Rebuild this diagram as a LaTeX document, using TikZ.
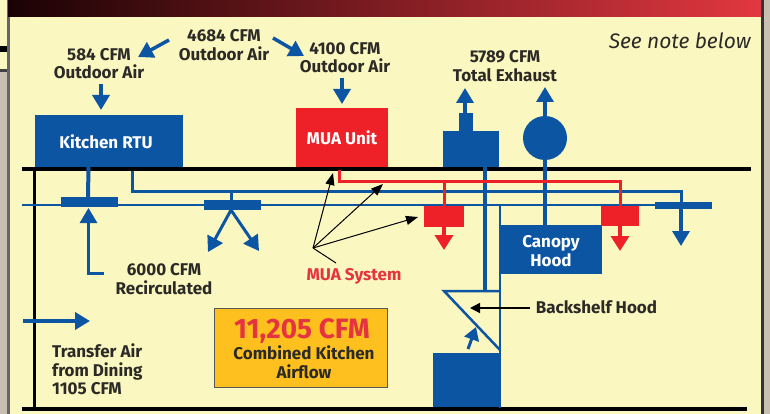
\documentclass[tikz,border=0pt]{standalone}
\usepackage{xcolor}
\usepackage{fontspec}
\setmainfont{Fira Sans}
\usepackage{tikz}
\usetikzlibrary{arrows.meta,positioning,calc}
\definecolor{paper}{HTML}{FBF7C0}
\definecolor{ductblue}{HTML}{0C55A3}
\definecolor{muared}{HTML}{EE2129}
\definecolor{inkdark}{HTML}{2B2A26}
\definecolor{margin}{HTML}{C8BFB0}
\definecolor{amber}{HTML}{FDC01E}
\definecolor{bandleft}{HTML}{1A0204}
\definecolor{bandmid}{HTML}{7A1012}
\definecolor{bandright}{HTML}{E23740}
\definecolor{alertred}{HTML}{E5343F}

\begin{document}
\begin{tikzpicture}[
  x=1pt,y=-1pt,
  lbl/.style={font=\bfseries\fontsize{17}{18.5}\selectfont,text=inkdark,align=center,inner sep=0pt},
  unit/.style={font=\bfseries\fontsize{17}{18.5}\selectfont,text=white,align=center,inner sep=0pt,outer sep=0pt},
  blk/.style={fill=ductblue,inner sep=0pt,outer sep=0pt},
  redblk/.style={fill=muared,inner sep=0pt,outer sep=0pt},
  duct/.style={draw=ductblue,line width=3pt},
  thinduct/.style={draw=ductblue,line width=2pt},
  redduct/.style={draw=muared,line width=3pt},
  slab/.style={draw=black,line width=4pt},
  flow/.style={draw=ductblue,line width=3.5pt,-{Triangle[length=15pt,width=17pt]}},
  redflow/.style={draw=muared,line width=3.5pt,-{Triangle[length=15pt,width=18pt]}},
  pointer/.style={draw=black,line width=1pt,-{Triangle[length=12pt,width=9pt]}}
]
\useasboundingbox (0,0) rectangle (770,414);
\fill[paper] (0,0) rectangle (770,414);
\fill[margin] (0,72) rectangle (8,414);
\fill[black] (0,46) rectangle (7,52);
\fill[black!75] (0,69) rectangle (7,72);
\fill[black!60] (7,0) rectangle (10,414);
\fill[margin] (764,0) rectangle (770,414);
\fill[black!80] (761,0) rectangle (764,414);
\shade[left color=bandleft,middle color=bandmid,right color=bandright] (8,0) rectangle (761,17);

\node[lbl] (outrtu) at (99,63.5) {584 CFM\\Outdoor Air};
\node[lbl] (outall) at (224,45) {4684 CFM\\Outdoor Air};
\node[lbl] (outmua) at (345,57.5) {4100 CFM\\Outdoor Air};
\node[lbl] (exhaust) at (505,66) {5789 CFM\\Total Exhaust};
\node[font=\itshape\fontsize{21}{24}\selectfont,text=inkdark,anchor=east,inner sep=0pt] (note) at (751,41) {See note below};
\node[lbl] (recirc) at (164,279) {6000 CFM\\Recirculated};
\node[lbl,text=alertred] (muasys) at (354,276) {MUA System};
\node[lbl,align=left,anchor=north west] (transfer) at (52,344) {Transfer Air\\from Dining\\1105 CFM};
\node[lbl] (backlbl) at (596.5,307) {Backshelf Hood};

\node[blk,minimum width=148pt,minimum height=52pt] (rtu) at (109,141) {};
\node[unit] (rtulbl) at (106,142) {Kitchen RTU};
\node[unit,fill=muared,minimum width=92pt,minimum height=59pt] (mua) at (342,137.5) {MUA Unit};
\node[blk,minimum width=56pt,minimum height=36pt] (stack) at (471,149) {};
\node[blk,minimum width=14pt,minimum height=18pt] (stackcap) at (466,122) {};
\node[blk,circle,minimum size=44pt] (fan) at (545,138) {};
\node[blk,minimum width=102pt,minimum height=49pt] (canopy) at (551,249.5) {};
\node[unit] (canopylbl) at (551,251) {Canopy\\Hood};
\node[blk,minimum width=67pt,minimum height=55pt] (cooker) at (466.5,380.5) {};
\node[blk,minimum width=57pt,minimum height=10pt] (grille) at (89.5,202) {};
\node[blk,minimum width=57pt,minimum height=10pt] (splitter) at (232.5,205) {};
\node[blk,minimum width=57pt,minimum height=7pt] (endgrille) at (683.5,205.5) {};
\node[redblk,minimum width=40pt,minimum height=21pt] (redone) at (444,216.5) {};
\node[redblk,minimum width=38pt,minimum height=20pt] (redtwo) at (620,216) {};
\node[fill=amber,draw=black!65,line width=1pt,minimum width=173pt,minimum height=79pt,inner sep=0pt] (total) at (300.5,347.5) {};
\node[font=\bfseries\fontsize{28}{30}\selectfont,text=alertred,inner sep=0pt] (totalnum) at (302,331) {11,205 CFM};
\node[lbl] (totallbl) at (304,362) {Combined Kitchen\\Airflow};

\coordinate (roofl) at (22,169);
\coordinate (roofr) at (751,169);
\coordinate (floorl) at (22,408.5);
\coordinate (floorr) at (747,408.5);
\coordinate (wallt) at (34.5,169);
\coordinate (wallb) at (34.5,408.5);
\coordinate (supstart) at (132,171);
\coordinate (supcorner) at (132,191.5);
\coordinate (supend) at (681,191.5);
\coordinate (retstart) at (22,205);
\coordinate (retend) at (656,205);
\coordinate (redstart) at (339,170);
\coordinate (redcorner) at (339,181.5);
\coordinate (redend) at (620,181.5);
\coordinate (hub) at (313,248);
\coordinate (hoodtl) at (444,291);
\coordinate (hoodtr) at (500,291);
\coordinate (hoodbr) at (500,350);
\coordinate (hoodback) at (500,205);
\coordinate (hoodfoot) at (500,408);

\draw[slab] (roofl) -- (roofr);
\draw[slab] (floorl) -- (floorr);
\draw[black,line width=3pt] (wallt) -- (wallb);

\draw[thinduct] (retstart) -- (retend);
\draw[duct] (supstart) -- (supcorner) -- (supend) -- (endgrille.south -| supend);
\draw[duct,line width=4pt] (rtu.south -| grille.north) ++(-1,0) -- (grille.north -| 88,0);
\draw[duct] (supcorner -| splitter.north) ++(-1,0) -- ++(0,9);
\draw[duct,line width=4pt] (stack.south -| 485,0) -- (hoodtl -| 485,0);
\draw[duct,line width=4pt] (fan.south) -- (canopy.north -| fan.south);
\draw[duct,line width=2.5pt] (hoodback) -- (hoodfoot);
\draw[duct,line width=2.5pt,line join=miter] (hoodtr) -- (hoodtl) -- (hoodbr);
\draw[redduct] (redstart) -- (redcorner) -- (redend) -- (redtwo.north);
\draw[redduct] (redcorner -| redone.north) -- (redone.north);

\draw[flow] (stackcap.north) ++(-1,0) -- ++(0,-25);
\draw[flow] (fan.north) -- ++(0,-29);
\draw[flow] (101,84) -- (101,110);
\draw[flow] (342,78) -- (342,104);
\draw[flow] (169,40) -- (138,57);
\draw[flow] (273,38) -- (304,56);
\draw[flow,line width=3pt,rounded corners=0pt] (104,273) -- (88.5,273) -- (88.5,208);
\draw[flow,line width=3pt] (231,210) -- (208,252);
\draw[flow,line width=3pt] (231,210) -- (259,251);
\draw[flow] (endgrille.south -| supend) -- (681,246);
\draw[flow,line width=4pt] (23,321) -- (90,321);
\draw[flow,line width=3pt,-{Triangle[length=13pt,width=15pt]}] (468,349) -- (476,327);
\draw[redflow] (redone.south) -- ++(0,23);
\draw[redflow] (redtwo.south) -- ++(0,25);

\draw[pointer] (hub) -- (333,173);
\draw[pointer] (hub) -- (383,184);
\draw[pointer] (hub) -- (418,217);
\draw[black,line width=1pt] (hub) -- (336,263);
\draw[black,line width=1.5pt,-{Triangle[length=10pt,width=10pt]}] (backlbl.west) ++(-6,1) -- (470,308);
\end{tikzpicture}
\end{document}
